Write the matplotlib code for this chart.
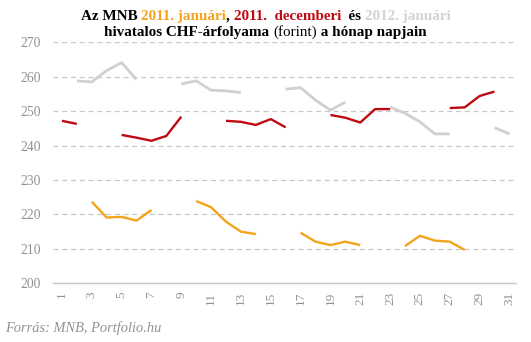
import matplotlib.pyplot as plt
import numpy as np

# napi MNB CHF árfolyamok, forint
days_2011_jan = [3, 4, 5, 6, 7, 10, 11, 12, 13, 14, 17, 18, 19, 20, 21, 24, 25, 26, 27, 28]
chf_2011_jan = [223.7, 219.1, 219.3, 218.2, 221.3, 223.9, 222.1, 217.9, 215.0, 214.3,
                214.7, 212.1, 211.1, 212.1, 211.1, 210.8, 213.8, 212.4, 212.1, 209.7]

days_2011_dec = [1, 2, 5, 6, 7, 8, 9, 12, 13, 14, 15, 16, 19, 20, 21, 22, 23, 27, 28, 29, 30]
chf_2011_dec = [247.2, 246.3, 243.1, 242.3, 241.4, 242.8, 248.4, 247.2, 246.9, 246.0, 247.7,
                245.3, 248.9, 248.1, 246.7, 250.6, 250.6, 250.9, 251.1, 254.4, 255.7]

days_2012_jan = [2, 3, 4, 5, 6, 9, 10, 11, 12, 13, 16, 17, 18, 19, 20, 23, 24, 25, 26, 27, 30, 31]
chf_2012_jan = [258.8, 258.5, 261.8, 264.1, 259.2, 257.9, 258.8, 256.1, 255.9, 255.4,
                256.4, 256.8, 253.2, 250.3, 252.6, 251.2, 249.4, 246.9, 243.4, 243.4, 245.2, 243.4]

y_ticks = [200, 210, 220, 230, 240, 250, 260, 270]
x_ticks = list(range(1, 32, 2))

ORANGE = "#f5a31c"
RED = "#c00a12"
GRAY = "#d0d0d0"
LABEL = "#929292"
SERIF = ["Liberation Serif", "DejaVu Serif"]


def series(days, vals):
    # hétvégén/ünnepnap nincs jegyzés: megszakítjuk a vonalat
    full = np.arange(1, 32)
    y = np.full(full.shape, np.nan)
    for d, v in zip(days, vals):
        y[d - 1] = v
    return full, y


fig = plt.figure(figsize=(5.31, 3.42), dpi=100)
ax = fig.add_axes([0.0998, 0.1716, 0.8722, 0.7047])

for days, vals, col, lw in [
    (days_2012_jan, chf_2012_jan, GRAY, 2.0),
    (days_2011_dec, chf_2011_dec, RED, 1.7),
    (days_2011_jan, chf_2011_jan, ORANGE, 1.7),
]:
    x, y = series(days, vals)
    ax.plot(x, y, color=col, lw=lw, solid_capstyle="butt")

ax.set_xlim(0.4, 31.45)
ax.set_ylim(200, 270)
ax.set_yticks(y_ticks)
ax.set_xticks(x_ticks)
ax.set_xticklabels([str(d) for d in x_ticks], rotation=90)
for s in ["top", "right", "left"]:
    ax.spines[s].set_visible(False)
ax.spines["bottom"].set_color("#c8c8c8")
ax.spines["bottom"].set_linewidth(1.0)
ax.yaxis.grid(True, color="#c8c8c8", linestyle=(0, (4, 3)), linewidth=0.9)
ax.set_axisbelow(True)
ax.tick_params(axis="y", length=0, pad=9, labelcolor=LABEL, labelsize=9.8)
ax.tick_params(axis="x", length=0, pad=6, labelcolor=LABEL, labelsize=9.5)
for lab in ax.get_xticklabels() + ax.get_yticklabels():
    lab.set_family(SERIF)

# többszínű cím
line1 = [("Az MNB ", "black", "bold"), ("2011. januári", ORANGE, "bold"),
         (", ", "black", "bold"), ("2011.  decemberi", RED, "bold"),
         ("  és ", "black", "bold"), ("2012. januári", "#d3d3d3", "bold")]
line2 = [("hivatalos CHF-árfolyama ", "black", "bold"), ("(forint)", "black", "normal"),
         (" a hónap napjain", "black", "bold")]


def colored_line(parts, y, size=10.9):
    renderer = fig.canvas.get_renderer()
    texts = []
    for s, c, w in parts:
        t = fig.text(0, y, s, color=c, fontweight=w, fontsize=size, family=SERIF,
                     va="baseline", ha="left")
        texts.append(t)
    widths = [t.get_window_extent(renderer).width for t in texts]
    x = (fig.bbox.width - sum(widths)) / 2
    for t, w in zip(texts, widths):
        t.set_x(x / fig.bbox.width)
        x += w


colored_line(line1, 1 - 20 / 342)
colored_line(line2, 1 - 36 / 342)

fig.text(5 / 531, 1 - 332 / 342, "Forrás: MNB, Portfolio.hu", color=LABEL,
         fontsize=10.4, style="italic", family=SERIF)

fig.savefig("out.png", dpi=100)
